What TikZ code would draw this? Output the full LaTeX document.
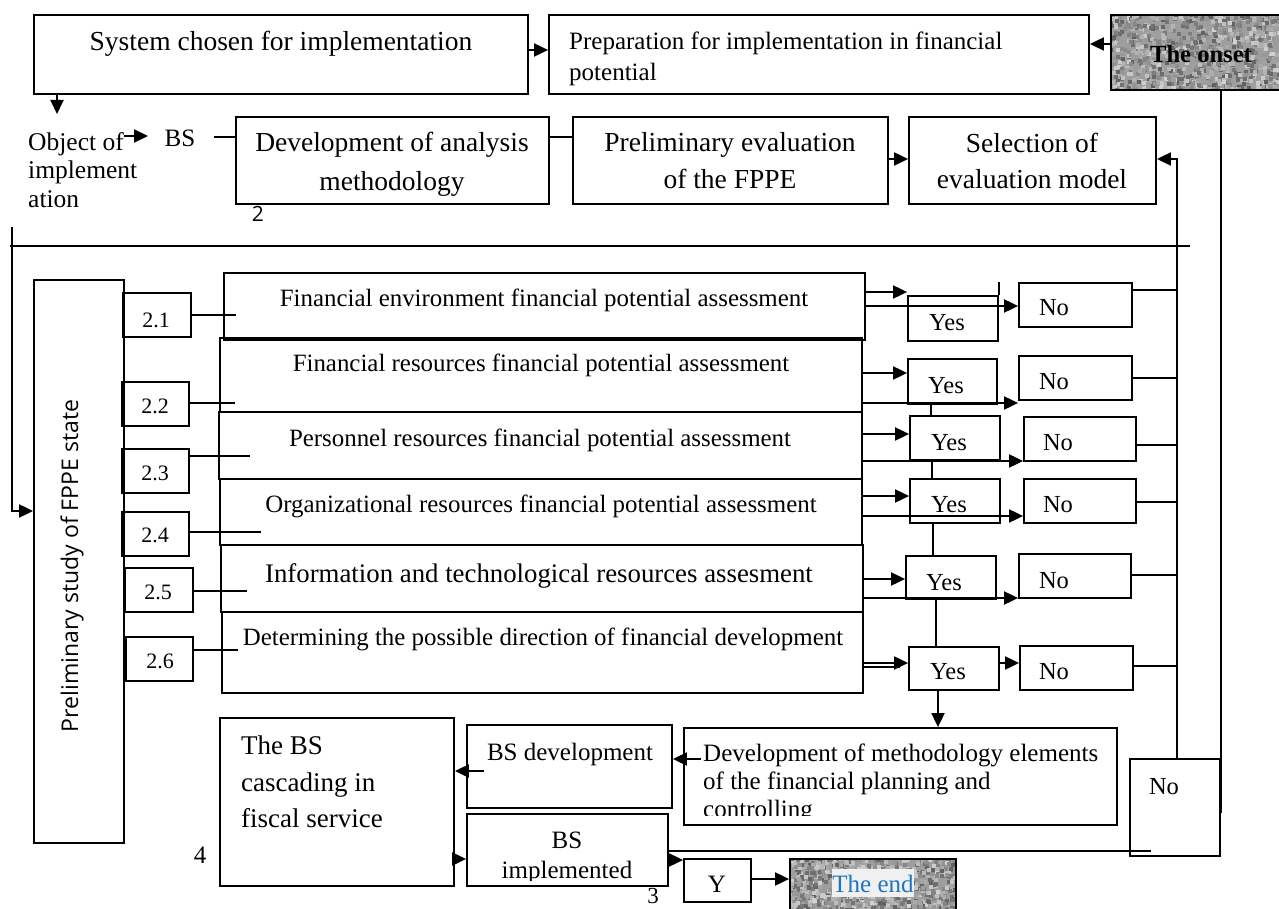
\documentclass[tikz,border=0pt]{standalone}
\usepackage{fontspec}
\setmainfont{Liberation Serif}
\newfontfamily\labelsans{Open Sans}
\usetikzlibrary{arrows.meta,fit}
\definecolor{endblue}{RGB}{30,118,190}

% grainy grey fill for the start/end terminals
\newcommand{\speckle}[4]{%
  \begin{scope}
    \clip (#1,#2) rectangle (#3,#4);
    \fill[black!38] (#1,#2) rectangle (#3,#4);
    \foreach \k in {1,...,900}{%
      \pgfmathsetmacro\sx{#1-2+rnd*(#3-#1)}%
      \pgfmathsetmacro\sy{#2-2+rnd*(#4-#2)}%
      \pgfmathtruncatemacro\sg{18+rnd*45}%
      \fill[black!\sg] (\sx,\sy) rectangle ++(4,4);
    }
  \end{scope}}

\begin{document}
\begin{tikzpicture}[x=1pt,y=-1pt,
  box/.style={draw,line width=1.8pt,inner sep=0pt},
  ln/.style={line width=1.6pt},
  arr/.style={line width=1.9pt,-{Triangle[length=14pt,width=13pt]}},
  txt/.style={inner sep=0pt,anchor=base,font=\fontsize{25}{30}\selectfont},
  big/.style={font=\fontsize{27.5}{33}\selectfont},
  row/.style={font=\fontsize{24.9}{30}\selectfont},
  num/.style={inner sep=0pt,anchor=base,font=\fontsize{22}{26}\selectfont},
  yn/.style={inner sep=0pt,anchor=base,font=\fontsize{24.5}{28}\selectfont}]
\useasboundingbox (0,0) rectangle (1279,909);
\pgfmathsetseed{17}

% ---------- top part ----------
\node[box,fit={(34,15)(528,94)}] (sys) {};
\node[txt,big] (systxt) at (281,51) {System chosen for implementation};
\node[box,fit={(549,15)(1089,94)}] (prep) {};
\node[txt,anchor=base west] (preptxta) at (569,50) {Preparation for implementation in financial};
\node[txt,anchor=base west] (preptxtb) at (569,81) {potential};
\speckle{1111}{15}{1279}{90}
\node[box,fit={(1111,15)(1292,90)}] (onset) {};
\node[txt,font=\bfseries\fontsize{24.6}{30}\selectfont] (onsettxt) at (1201,63) {The onset};

\draw[arr] (sys.east |- 0,50) -- (prep.west |- 0,50);
\draw[arr] (onset.west |- 0,44) -- (prep.east |- 0,44);

\coordinate (objtop) at (57,114);
\draw[arr] (sys.south -| objtop) -- (objtop);
\node[txt,anchor=base west,font=\fontsize{25.5}{30}\selectfont] (obja) at (28,151) {Object of};
\node[txt,anchor=base west,font=\fontsize{25.5}{30}\selectfont] (objb) at (28,179) {implement};
\node[txt,anchor=base west,font=\fontsize{25.5}{30}\selectfont] (objc) at (28,208) {ation};
\coordinate (objarr) at (124,136);
\coordinate (objarrtip) at (148,136);
\node[txt] (bs) at (180,147) {BS};
\draw[arr] (objarr) -- (objarrtip);

\node[box,fit={(236,117)(549,204)}] (dev) {};
\node[txt,big] (devtxta) at (392,152) {Development of analysis};
\node[txt,big] (devtxtb) at (392,191) {methodology};
\coordinate (bsline) at (214,137);
\draw[ln] (bsline) -- (dev.west |- bsline);

\node[box,fit={(573,117)(888,204)}] (prel) {};
\node[txt,big] (preltxta) at (730,152) {Preliminary evaluation};
\node[txt,big] (preltxtb) at (730,189) {of the FPPE};
\draw[ln] (dev.east |- 0,137) -- (prel.west |- 0,137);

\node[box,fit={(909,117)(1156,204)}] (sel) {};
\node[txt,big] (seltxta) at (1032,153) {Selection of};
\node[txt,big] (seltxtb) at (1032,189) {evaluation model};
\draw[arr] (prel.east |- 0,159) -- (sel.west |- 0,159);

\node[inner sep=0pt,font=\labelsans\fontsize{21}{26}\selectfont] (two) at (258,214) {2};

\coordinate (sepl) at (10,246);
\coordinate (sepr) at (1190,246);
\draw[ln] (sepl) -- (sepr);

% ---------- preliminary study ----------
\node[box,fit={(34,280)(124,843)}] (prelim) {};
\node[rotate=90,inner sep=0pt,font=\labelsans\fontsize{23}{28}\selectfont] (prelimtxt) at (72,566) {Preliminary study of FPPE state};
\coordinate (leftline) at (12,227);
\draw[arr] (leftline) |- (prelim.west |- 0,511);

% row 1
\node[box,fit={(224,273)(865,340)}] (ra) {};
\node[txt,row] (ratxt) at (544,306) {Financial environment financial potential assessment};
\node[box,fit={(123,293)(191,337)}] (la) {};
\node[num] (latxt) at (156,327) {2.1};
\draw[ln] (la.east |- 0,315) -- ++(44,0);
\node[box,fit={(908,296)(998,341)}] (ya) {};
\node[yn] (yatxt) at (947,330) {Yes};
\node[box,fit={(1019,283)(1132,327)}] (na) {};
\node[yn] (natxt) at (1054,316) {No};
\draw[arr] (ra.east |- 0,292) -- (ya.west |- 0,292);
\draw[arr] (ra.east |- 0,306) -- (na.west |- 0,306);
\draw[ln] (ya.north east) -- ++(0,-13);

% row 2
\node[box,fit={(220,338)(862,412)}] (rb) {};
\node[txt,row] (rbtxt) at (541,371) {Financial resources financial potential assessment};
\node[box,fit={(122,382)(189,426)}] (lb) {};
\node[num] (lbtxt) at (155,413) {2.2};
\draw[ln] (lb.east |- 0,403) -- ++(45,0);
\node[box,fit={(908,359)(997,404)}] (yb) {};
\node[yn] (ybtxt) at (946,393) {Yes};
\node[box,fit={(1019,356)(1132,400)}] (nb) {};
\node[yn] (nbtxt) at (1054,389) {No};
\draw[arr] (rb.east |- 0,373) -- (yb.west |- 0,373);
\draw[arr] (rb.east |- 0,403) -- (nb.west |- 0,403);

% row 3
\node[box,fit={(219,412)(862,479)}] (rc) {};
\node[txt,row] (rctxt) at (540,446) {Personnel resources financial potential assessment};
\node[box,fit={(122,449)(189,493)}] (lc) {};
\node[num] (lctxt) at (155,480) {2.3};
\draw[ln] (lc.east |- 0,456) -- ++(60,0);
\node[box,fit={(910,416)(1000,460)}] (yc) {};
\node[yn] (yctxt) at (949,450) {Yes};
\node[box,fit={(1024,417)(1136,461)}] (nc) {};
\node[yn] (nctxt) at (1058,450) {No};
\draw[arr] (rc.east |- 0,434) -- (yc.west |- 0,434);
\draw[arr] (rc.east |- 0,461) -- (nc.west |- 0,461);

% row 4
\node[box,fit={(220,479)(862,545)}] (rd) {};
\node[txt,row] (rdtxt) at (541,512) {Organizational resources financial potential assessment};
\node[box,fit={(122,512)(189,556)}] (ld) {};
\node[num] (ldtxt) at (155,542) {2.4};
\draw[ln] (ld.east |- 0,532) -- ++(71,0);
\node[box,fit={(910,479)(1000,523)}] (yd) {};
\node[yn] (ydtxt) at (949,512) {Yes};
\node[box,fit={(1024,479)(1136,523)}] (nd) {};
\node[yn] (ndtxt) at (1058,512) {No};
\draw[arr] (rd.east |- 0,496) -- (yd.west |- 0,496);
\draw[arr] (rd.east |- 0,516) -- (nd.west |- 0,516);

% row 5
\node[box,fit={(221,545)(863,612)}] (re) {};
\node[txt,font=\fontsize{26.8}{32}\selectfont] (retxt) at (539,582) {Information and technological resources assesment};
\node[box,fit={(125,568)(193,612)}] (le) {};
\node[num] (letxt) at (158,599) {2.5};
\draw[ln] (le.east |- 0,591) -- ++(53,0);
\node[box,fit={(906,556)(996,599)}] (ye) {};
\node[yn] (yetxt) at (944,590) {Yes};
\node[box,fit={(1019,554)(1131,598)}] (ne) {};
\node[yn] (netxt) at (1054,588) {No};
\draw[arr] (re.east |- 0,579) -- (ye.west |- 0,579);
\draw[arr] (re.east |- 0,598) -- (ne.west |- 0,598);

% row 6
\node[box,fit={(222,612)(863,693)}] (rf) {};
\node[txt,row] (rftxt) at (543,645) {Determining the possible direction of financial development};
\node[box,fit={(126,637)(193,681)}] (lf) {};
\node[num] (lftxt) at (160,668) {2.6};
\draw[ln] (lf.east |- 0,650) -- ++(44,0);
\node[box,fit={(909,647)(999,690)}] (yf) {};
\node[yn] (yftxt) at (948,679) {Yes};
\node[box,fit={(1020,646)(1133,690)}] (nf) {};
\node[yn] (nftxt) at (1054,679) {No};
\draw[arr] (rf.east |- 0,663) -- (yf.west |- 0,663);
\draw[ln] (rf.east |- 0,667) -- ([xshift=-8pt]yf.west |- 0,667);
\draw[arr] (yf.east |- 0,663) -- (nf.west |- 0,663);

% chain of Yes boxes
\draw[ln] (yb.south -| 931,0) -- (yc.north -| 931,0);
\draw[ln] (yc.south -| 932,0) -- (yd.north -| 932,0);
\draw[ln] (yd.south -| 933,0) -- (ye.north -| 933,0);
\draw[ln] (ye.south -| 936,0) -- (yf.north -| 936,0);

% ---------- bottom part ----------
\node[box,fit={(684,728)(1117,825)}] (devm) {};
\begin{scope}
  \clip (684,728) rectangle (1117,815);
  \node[txt,anchor=base west] (devmtxta) at (703,761) {Development of methodology elements};
  \node[txt,anchor=base west] (devmtxtb) at (703,789) {of the financial planning and};
  \node[txt,anchor=base west] (devmtxtc) at (703,817) {controlling};
\end{scope}
\draw[arr] (yf.south -| 938,0) -- (devm.north -| 938,0);

\node[box,fit={(220,718)(454,886)}] (casc) {};
\node[txt,anchor=base west,font=\fontsize{27}{32}\selectfont] (casctxta) at (241,754) {The BS};
\node[txt,anchor=base west,font=\fontsize{27}{32}\selectfont] (casctxtb) at (241,791) {cascading in};
\node[txt,anchor=base west,font=\fontsize{27}{32}\selectfont] (casctxtc) at (241,827) {fiscal service};
\node[txt] (four) at (200,863) {4};

\node[box,fit={(467,725)(672,808)}] (bsdev) {};
\node[txt] (bsdevtxt) at (570,760) {BS development};
\coordinate (bsdevout) at (484,771);
\draw[arr] (bsdevout) -- (casc.east |- bsdevout);
\coordinate (devmout) at (701,759);
\draw[arr] (devmout) -- (bsdev.east |- devmout);

\node[box,fit={(467,814)(668,886)}] (impl) {};
\node[txt] (impltxta) at (567,848) {BS};
\begin{scope}
  \clip (467,814) rectangle (668,880);
  \node[txt] (impltxtb) at (567,878) {implemented};
\end{scope}
\draw[arr] (casc.east |- 0,859) -- (impl.west |- 0,859);
\node[txt,font=\fontsize{23}{28}\selectfont] (three) at (653,903) {3};

\node[box,fit={(1130,759)(1220,856)}] (nob) {};
\node[yn] (nobtxt) at (1164,794) {No};
\coordinate (implline) at (1151,851);
\draw[ln] (impl.east |- implline) -- (implline);

\node[box,fit={(684,859)(751,902)}] (yy) {};
\node[txt] (yytxt) at (717,892) {Y};
\draw[arr] (impl.east |- 0,860) -- (yy.west |- 0,860);

\speckle{790}{859}{956}{912}
\node[box,fit={(790,859)(956,915)}] (theend) {};
\fill[white!94!black] (832,869) rectangle (914,897);
\node[txt,text=endblue] (endtxt) at (873,892) {The end};
\draw[arr] (yy.east |- 0,879) -- (theend.west |- 0,879);

% ---------- right-hand return lines ----------
\draw[arr] (nob.north -| 1177,0) |- (sel.east |- 0,159);
\foreach \nb/\yy in {na/290,nb/378,nc/445,nd/502,ne/575,nf/666}{
  \draw[ln] (\nb.east |- 0,\yy) -- (1177,\yy);
}
\coordinate (onsetline) at (1221,813);
\draw[ln] (onset.south -| onsetline) -- (onsetline);

\end{tikzpicture}
\end{document}
